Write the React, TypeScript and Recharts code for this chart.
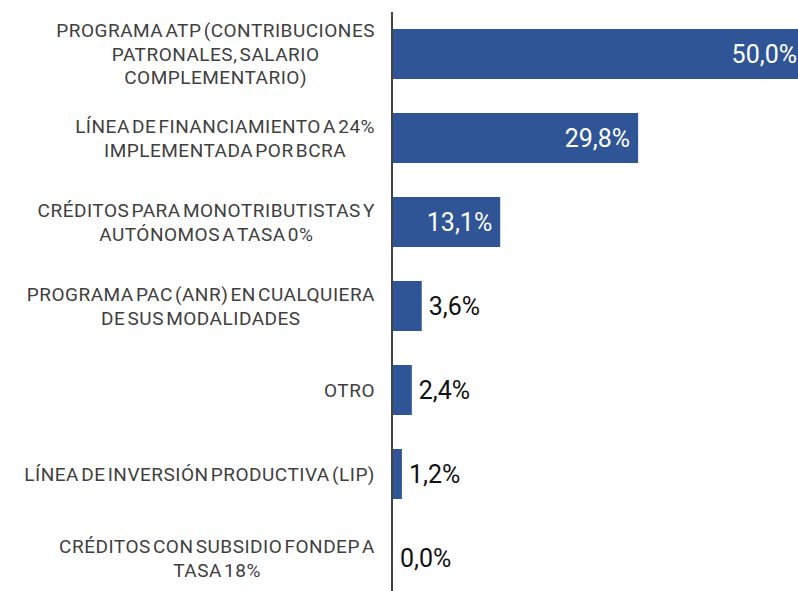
import { Bar, BarChart, LabelList, XAxis, YAxis } from 'recharts'

const categories = [
  'PROGRAMA ATP (CONTRIBUCIONES\nPATRONALES, SALARIO\nCOMPLEMENTARIO)',
  'LÍNEA DE FINANCIAMIENTO A 24%\nIMPLEMENTADA POR BCRA',
  'CRÉDITOS PARA MONOTRIBUTISTAS Y\nAUTÓNOMOS A TASA 0%',
  'PROGRAMA PAC (ANR) EN CUALQUIERA\nDE SUS MODALIDADES',
  'OTRO',
  'LÍNEA DE INVERSIÓN PRODUCTIVA (LIP)',
  'CRÉDITOS CON SUBSIDIO FONDEP A\nTASA 18%',
]

const shares = [50.0, 29.8, 13.1, 3.6, 2.4, 1.2, 0.0]

const data = categories.map((name, i) => ({ name, value: shares[i] }))

const labelFont = 'Roboto, "Noto Sans", sans-serif'
const tickSize = 19
const tickLetter = 0.5
const tickWord = -3

let ctx: CanvasRenderingContext2D | null = null
function measure(s: string) {
  if (!ctx) ctx = document.createElement('canvas').getContext('2d')
  if (!ctx) return s.length * 11
  ctx.font = `${tickSize}px Roboto`
  const spaces = s.split(' ').length - 1
  return ctx.measureText(s).width + s.length * tickLetter + spaces * tickWord
}

// lines are centred on each other, the widest one ends next to the axis
function CategoryTick(props: any) {
  const { x, y, payload } = props
  const lines: string[] = String(payload.value).split('\n')
  const lh = 23.5
  const first = -((lines.length - 1) * lh) / 2
  const right = x - 9
  const maxW = Math.max(...lines.map(measure))
  const cx = right - maxW / 2
  return (
    <text
      x={cx}
      y={y}
      textAnchor="middle"
      fontFamily={labelFont}
      fontSize={tickSize}
      letterSpacing={tickLetter}
      wordSpacing={tickWord}
      fill="#404040"
    >
      {lines.map((line, i) => (
        <tspan key={i} x={cx} y={y + first + i * lh} dy="0.36em">
          {line}
        </tspan>
      ))}
    </text>
  )
}

function ValueLabel(props: any) {
  const { x, y, width, height, value } = props
  const text = Number(value).toFixed(1).replace('.', ',') + '%'
  const inside = value > 10
  const cy = y + height / 2
  return (
    <text
      x={inside ? x + width - 8 : x + width + 7}
      y={cy}
      dy="0.36em"
      textAnchor={inside ? 'end' : 'start'}
      fontFamily={labelFont}
      fontSize={25}
      fill={inside ? '#ffffff' : '#111111'}
    >
      {text}
    </text>
  )
}

export default function App() {
  return (
    <div
      style={{
        position: 'absolute',
        left: 0,
        top: 0,
        width: 798,
        height: 591,
        overflow: 'hidden',
        background: '#fff',
      }}
    >
      <BarChart
        width={805}
        height={600}
        data={data}
        layout="vertical"
        margin={{ top: 12, right: 0, bottom: 0, left: 0 }}
      >
        <XAxis type="number" domain={[0, 50]} hide />
        <YAxis
          type="category"
          dataKey="name"
          width={392}
          tickLine={false}
          axisLine={{ stroke: '#444444', strokeWidth: 2 }}
          tick={<CategoryTick />}
          interval={0}
        />
        <Bar
          dataKey="value"
          fill="#2f5597"
          barSize={50}
          minPointSize={1}
          isAnimationActive={false}
        >
          <LabelList dataKey="value" content={<ValueLabel />} />
        </Bar>
      </BarChart>
    </div>
  )
}
